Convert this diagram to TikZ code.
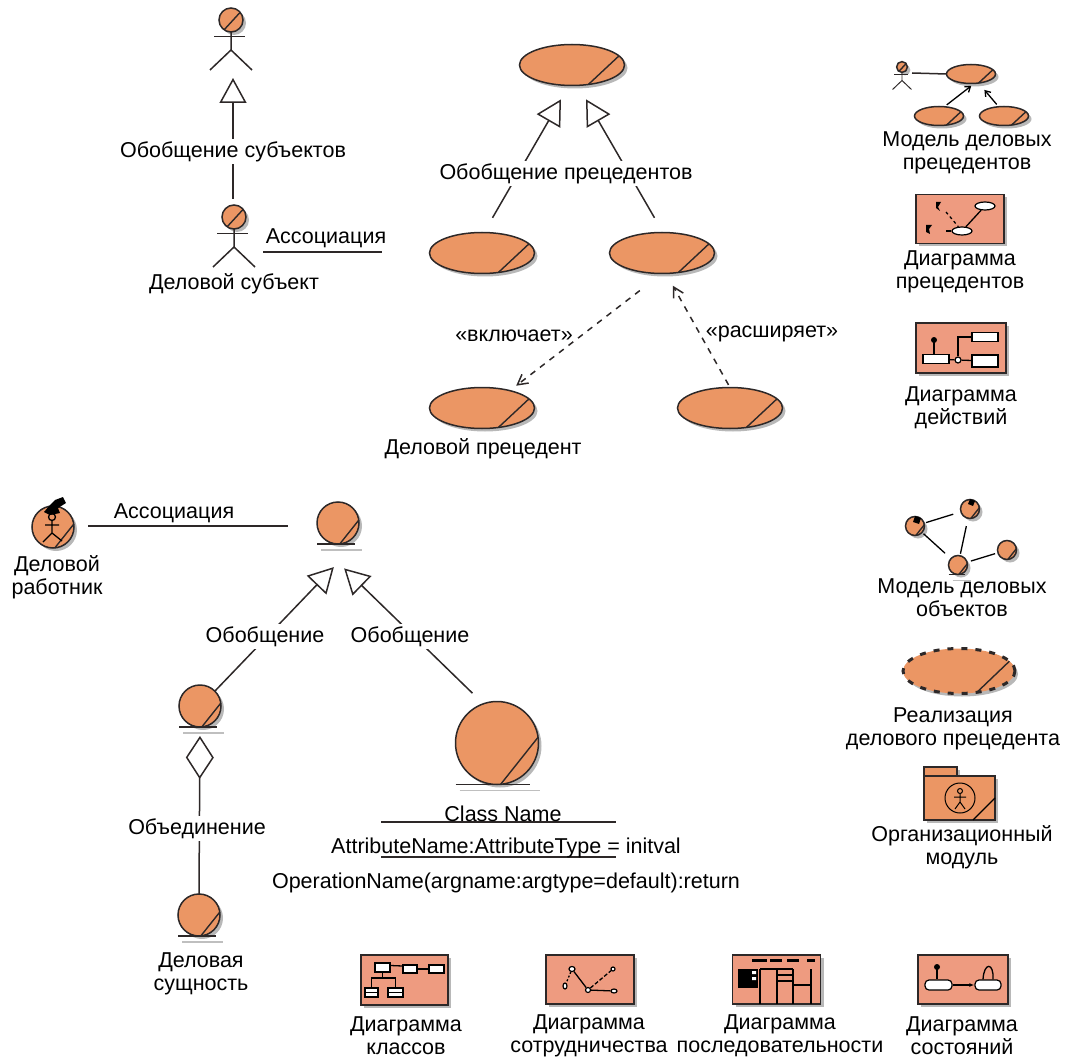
\documentclass[tikz,border=0pt]{standalone}
\usepackage{fontspec}
\setmainfont{Liberation Sans}
\usepackage{tikz}
\usetikzlibrary{shapes.geometric,arrows.meta,shadows}
\definecolor{caseorange}{RGB}{235,150,100}
\definecolor{iconsalmon}{RGB}{238,155,128}
\definecolor{inkgray}{RGB}{45,40,40}
\tikzset{softshadow/.style={drop shadow={shadow xshift=3pt, shadow yshift=-3pt, fill=black!28, opacity=1}}}
\tikzset{cut/.style 2 args={append after command={(\tikzlastnode.#1) edge[draw=inkgray, line width=1.4pt] (\tikzlastnode.#2)}}}
\tikzset{usecase/.style={ellipse, draw=inkgray, fill=caseorange, line width=1.5pt, inner sep=0pt, outer sep=0pt,
 minimum width=105pt, minimum height=41pt, softshadow, cut={-50}{11}}}
\tikzset{minicase/.style={usecase, minimum width=49pt, minimum height=19pt}}
\tikzset{realize/.style={usecase, minimum width=112pt, minimum height=45pt, dash pattern=on 6pt off 8pt, line width=3pt}}
\tikzset{blob/.style={circle, draw=inkgray, fill=caseorange, line width=1.5pt, inner sep=0pt, outer sep=0pt,
 minimum size=42pt, softshadow, cut={-85}{8}}}
\tikzset{entity/.style={blob, append after command={
 (\tikzlastnode.west |- \tikzlastnode.south) edge[draw=inkgray, line width=1.8pt] (\tikzlastnode.-38 |- \tikzlastnode.south)
 ([xshift=4pt, yshift=-6pt]\tikzlastnode.west |- \tikzlastnode.south) edge[draw=black!25, line width=1.5pt] ([xshift=4pt, yshift=-6pt]\tikzlastnode.-20 |- \tikzlastnode.south)}}}
\tikzset{actorhead/.style={circle, draw=inkgray, fill=caseorange, line width=1.5pt, inner sep=0pt, outer sep=0pt,
 softshadow, cut={235}{40}}}
\tikzset{diagbox/.style={rectangle, draw=inkgray, fill=iconsalmon, line width=1.7pt, inner sep=0pt,
 minimum width=88pt, minimum height=49pt, softshadow}}
\tikzset{whitebox/.style={rectangle, draw=black, fill=white, line width=1.4pt, inner sep=0pt}}
\tikzset{pebble/.style={ellipse, draw=black, fill=white, line width=1.2pt, inner sep=0pt}}
\tikzset{caption/.style={font=\fontsize{21.5pt}{23pt}\selectfont, align=center, inner sep=2pt, yshift=-1.5pt}}
\tikzset{gaplabel/.style={caption, fill=white}}
\tikzset{line/.style={draw=inkgray, line width=1.5pt}}
\tikzset{thinline/.style={draw=black, line width=1.3pt}}
\tikzset{general/.style={line, -{Triangle[open, length=25pt, width=27pt]}}}
\tikzset{depend/.style={line, dash pattern=on 6pt off 6pt, -{Straight Barb[length=10pt, width=11pt]}}}
\tikzset{tiny/.style={thinline, -{Straight Barb[length=5pt, width=7pt]}}}
\newcommand{\bizactor}[4][1]{
 \node[actorhead, minimum size={24pt*#1}] (#2) at (#3,#4) {};
 \draw[line, line width={0.5pt+1pt*#1}] (#2.south) -- ++(0,18*#1) coordinate (#2-hip) -- ++(-21*#1,20*#1);
 \draw[line, line width={0.5pt+1pt*#1}] (#2-hip) -- ++(21*#1,20*#1);
 \draw[line, line width={0.5pt+1pt*#1}] ([xshift={-17pt*#1}, yshift={-4.5pt*#1}]#2.south) -- ++(31*#1,0);
 \path (#2-hip) ++(0,28*#1) coordinate (#2-foot);
}
\begin{document}
\begin{tikzpicture}[x=1pt, y=-1pt]
        \useasboundingbox (0,0) rectangle (1065,1059);

        % business actors
        \bizactor{subjtop}{231}{20}
        \bizactor{subjbot}{234}{217}
        \path[general, shorten <=6pt] ([xshift=-1pt]subjbot.north) -- ([xshift=2pt]subjtop-foot);
        \node[gaplabel] (subjgen) at (233,150) {Обобщение субъектов};
        \node[caption] (subjname) at (234,282) {Деловой субъект};
        \coordinate (assocA) at (263,252);
        \coordinate (assocB) at (382,252);
        \path[line] (assocA) -- (assocB);
        \node[caption] (assoclabel) at (326,237) {Ассоциация};

        % business use cases
        \node[usecase] (casetop) at (572,65) {};
        \node[usecase] (caseleft) at (482,253) {};
        \node[usecase] (caseright) at (662,253) {};
        \node[usecase] (caseinc) at (482,408) {};
        \node[usecase] (caseext) at (730,408) {};
        \path[general, shorten <=17pt, shorten >=16pt] ([xshift=2pt]caseleft.north) -- ([xshift=-3pt]casetop.south);
        \path[general, shorten <=17pt, shorten >=16pt] ([xshift=1pt]caseright.north) -- ([xshift=6pt]casetop.south);
        \node[gaplabel] (casegen) at (566,172) {Обобщение прецедентов};
        \path[depend, shorten <=28pt, shorten >=8pt] (caseright.south) -- (caseinc.32);
        \path[depend, shorten <=3pt, shorten >=14pt] (caseext.north) -- ([xshift=4pt]caseright.south);
        \node[caption] (inclabel) at (514,334) {«включает»};
        \node[caption] (extlabel) at (772,332) {«расширяет»};
        \node[caption] (casename) at (483,447) {Деловой прецедент};

        % workers and entities
        \node[blob] (worker) at (53,527) {};
        \draw[thinline] (52,517) circle (3.5pt);
        \fill[black] (44,512) -- (50,505) -- (55,500) -- (63,497) -- (66,503) -- (58,508) -- (60,513) -- (50,515) -- cycle;
        \draw[thinline] (52,521) -- (52,533) -- (43,542) (52,533) -- (62,541) (45,525) -- (59,525);
        \node[caption] (workername) at (57,576) {Деловой\\работник};
        \node[entity] (enttop) at (338,523) {};
        \node[entity] (entleft) at (200,706) {};
        \node[entity] (entlow) at (199,915) {};
        \node[entity, minimum size=83pt] (entbig) at (497,743) {};
        \path[line, shorten <=14pt, shorten >=29pt] ([yshift=1pt]worker.east) -- ([yshift=-3pt]enttop.west);
        \node[caption] (assoclow) at (174,512) {Ассоциация};
        \path[general, shorten >=32pt] (entleft.45) -- ([xshift=18pt]enttop.south);
        \path[general, shorten <=12pt, shorten >=35pt] ([xshift=-16pt]entbig.north) -- ([xshift=-19pt]enttop.south);
        \node[gaplabel] (genleft) at (265,635) {Обобщение};
        \node[gaplabel] (genright) at (410,635) {Обобщение};
        \path[line, {Diamond[open, length=43pt, width=28pt]}-, shorten <=9pt] (entleft.south) -- (entlow.north);
        \node[gaplabel] (unite) at (197,827) {Объединение};
        \node[caption] (entname) at (201,972) {Деловая\\сущность};

        % class compartments
        \coordinate (ruleA) at (381,822);
        \coordinate (ruleB) at (616,822);
        \coordinate (ruleC) at (381,857);
        \coordinate (ruleD) at (616,857);
        \path[line] (ruleA) -- (ruleB);
        \path[line] (ruleC) -- (ruleD);
        \node[caption] (classname) at (503,812) {Class Name};
        \node[caption] (classattr) at (506,846) {AttributeName:AttributeType = initval};
        \node[caption] (classop) at (506,881) {OperationName(argname:argtype=default):return};

        % icon: use case model
        \bizactor[0.45]{iconactor}{902}{67}
        \node[minicase] (icontop) at (971,74) {};
        \node[minicase] (iconleft) at (939,116) {};
        \node[minicase] (iconright) at (1004,116) {};
        \path[line] (iconactor) ++(10,6) -- (icontop.west);
        \path[tiny, shorten <=3pt, shorten >=4pt] (iconleft.60) -- (icontop.-70);
        \path[tiny, shorten <=3pt, shorten >=9pt] (iconright.120) -- (icontop.-50);
        \node[caption] (iconcapA) at (967,151) {Модель деловых\\прецедентов};

        % icon: use case diagram
        \node[diagbox] (caseicon) at (960,219) {};
        \node[pebble, minimum width=20pt, minimum height=8pt] (peblA) at (985,206) {};
        \node[pebble, minimum width=20pt, minimum height=8pt] (peblB) at (962,231) {};
        \coordinate (markA) at (946,212);
        \coordinate (markB) at (946,231);
        \path[thinline] (peblA) -- (peblB);
        \path[thinline, dashed] (markA) -- (peblB);
        \path[thinline] (markB) -- (peblB);
        \fill[black] (936,202) -- (941,202) -- (938,207) -- (940,211) -- (936,208) -- cycle;
        \fill[black] (926,225) -- (932,225) -- (929,229) -- (930,234) -- (926,232) -- cycle;
        \node[caption] (iconcapB) at (960,270) {Диаграмма\\прецедентов};

        % icon: activity diagram
        \node[diagbox, minimum width=90pt, minimum height=50pt] (acticon) at (961,348) {};
        \node[whitebox, minimum width=26pt, minimum height=9pt] (actA) at (936,359) {};
        \node[whitebox, minimum width=26pt, minimum height=9pt] (actB) at (985,337) {};
        \node[whitebox, minimum width=26pt, minimum height=12pt] (actC) at (985,361) {};
        \node[circle, draw=black, fill=white, line width=1.2pt, inner sep=0pt, minimum size=6pt] (actfork) at (958,360) {};
        \coordinate (actstart) at (934,341);
        \path[thinline] (actA) -- (actfork);
        \path[thinline] (actfork) -- (actC);
        \path[thinline] (actfork) |- (actB);
        \path[thinline] (actstart) -- (actA.north -| actstart);
        \fill[black] (934,340) circle (3pt);
        \node[caption] (iconcapC) at (961,406) {Диаграмма\\действий};

        % icon: object model
        \node[blob, minimum size=19pt] (objA) at (915,526) {};
        \node[blob, minimum size=19pt] (objB) at (970,509) {};
        \node[entity, minimum size=19pt] (objC) at (958,565) {};
        \node[blob, minimum size=19pt] (objD) at (1007,550) {};
        \fill[black] (915,516) -- (921,518) -- (919,524) -- (913,522) -- cycle;
        \fill[black] (970,499) -- (975,501) -- (973,506) -- (968,504) -- cycle;
        \path[thinline, shorten <=2pt, shorten >=8pt] (objA) -- (objB);
        \path[thinline, shorten <=2pt, shorten >=8pt] (objA) -- (objC);
        \path[thinline, shorten <=8pt, shorten >=2pt] (objB) -- (objC);
        \path[thinline, shorten <=4pt, shorten >=3pt] (objC) -- (objD);
        \node[caption] (iconcapD) at (962,596) {Модель деловых\\объектов};

        % icon: realization and package
        \node[realize] (realicon) at (959,671) {};
        \node[caption] (iconcapE) at (953,727) {Реализация\\делового прецедента};
        \node[rectangle, draw=inkgray, fill=caseorange, line width=1.5pt, inner sep=0pt, minimum width=33pt, minimum height=9pt, softshadow] (pkgtab) at (940.5,771.5) {};
        \node[rectangle, draw=inkgray, fill=caseorange, line width=1.5pt, inner sep=0pt, minimum width=71pt, minimum height=44pt, softshadow] (pkgbody) at (959.5,798) {};
        \coordinate (pkgcutA) at (973,820);
        \coordinate (pkgcutB) at (995,798);
        \path[thinline] (pkgcutA) -- (pkgcutB);
        \node[circle, draw=black, line width=1pt, inner sep=0pt, minimum size=30pt] (pkgring) at (960,798) {};
        \draw[thinline, line width=1pt] (960,791) circle (2.5pt) (960,794) -- (960,802) -- (955,809) (960,802) -- (965,809) (954,797) -- (966,797);
        \node[caption] (iconcapF) at (962,846) {Организационный\\модуль};

        % icon: class diagram
        \node[diagbox, minimum width=87pt, minimum height=50pt] (classicon) at (404.5,980) {};
        \node[whitebox, minimum width=15pt, minimum height=9pt] (clA) at (382.5,967.5) {};
        \node[whitebox, minimum width=14pt, minimum height=8pt] (clB) at (410,969) {};
        \node[whitebox, minimum width=15pt, minimum height=8pt] (clC) at (436.5,969) {};
        \node[whitebox, minimum width=13pt, minimum height=9pt] (clD) at (371.5,992.5) {};
        \node[whitebox, minimum width=15pt, minimum height=9pt] (clE) at (395.5,992.5) {};
        \path[thinline] ([yshift=2pt]clA.east) -- ([yshift=3pt]clB.west);
        \path[thinline] (clB.east) -- (clC.west);
        \path[thinline] (clD.north) |- (382.5,978) -| (clE.north);
        \path[thinline] (clA.south) -- (382.5,978);
        \path[thinline] (clD.west) -- (clD.east);
        \path[thinline] (clE.west) -- (clE.east);
        \node[caption] (iconcapG) at (406,1034.5) {Диаграмма\\классов};

        % icon: collaboration diagram
        \node[diagbox] (collicon) at (590,979.5) {};
        \node[pebble, minimum width=6pt, minimum height=5pt] (coA) at (572,969) {};
        \node[pebble, minimum width=4pt, minimum height=6pt] (coB) at (565,986) {};
        \node[pebble, minimum width=5pt, minimum height=5pt] (coC) at (588,990) {};
        \node[pebble, minimum width=4pt, minimum height=4pt] (coD) at (613,969) {};
        \node[pebble, minimum width=6pt, minimum height=4pt] (coE) at (614,991) {};
        \path[thinline] (coA) -- (coC);
        \path[thinline, dashed, dash pattern=on 2pt off 2pt] (coA) -- (coB);
        \path[thinline, dashed, dash pattern=on 4pt off 2pt] (coC) -- (coD);
        \path[thinline] (coC) -- (coE);
        \node[caption] (iconcapH) at (589,1034.5) {Диаграмма\\сотрудничества};

        % icon: sequence diagram
        \node[diagbox] (seqicon) at (776.5,979.5) {};
        \foreach \a/\b in {752/767, 770/782, 787/799, 807/815}
          \draw[black, line width=3pt] (\a,960) -- (\b,960);
        \fill[black] (738,969) rectangle (758,988);
        \fill[white] (752,971) rectangle (756,974) (752,977) rectangle (756,980);
        \draw[thinline, line width=1.6pt] (760,969) -- (793,969) (777,975) -- (793,975) (777,981) -- (793,981) (793,985) -- (811,985);
        \foreach \a in {760,777,793,811}
          \draw[black, line width=1.6pt] (\a,969) -- (\a,1004);
        \node[caption] (iconcapI) at (780,1034.5) {Диаграмма\\последовательности};

        % icon: state diagram
        \node[diagbox, minimum width=90pt] (stateicon) at (963,979.5) {};
        \node[rectangle, rounded corners=4pt, draw=black, fill=white, line width=1.2pt, inner sep=0pt, minimum width=27pt, minimum height=10pt] (stA) at (938.5,985) {};
        \node[rectangle, rounded corners=4pt, draw=black, fill=white, line width=1.2pt, inner sep=0pt, minimum width=26pt, minimum height=10pt] (stB) at (988,985) {};
        \coordinate (ststart) at (937,967);
        \fill[black] (ststart) circle (3pt);
        \path[thinline] (ststart) -- (stA.north -| ststart);
        \path[thinline, -{Latex[length=5pt]}] (stA) -- (stB);
        \path[thinline] ([xshift=-5pt]stB.north) .. controls (984,962) and (994,962) .. ([xshift=5pt]stB.north);
        \node[caption] (iconcapJ) at (962,1034.5) {Диаграмма\\состояний};
     \end{tikzpicture}
\end{document}
